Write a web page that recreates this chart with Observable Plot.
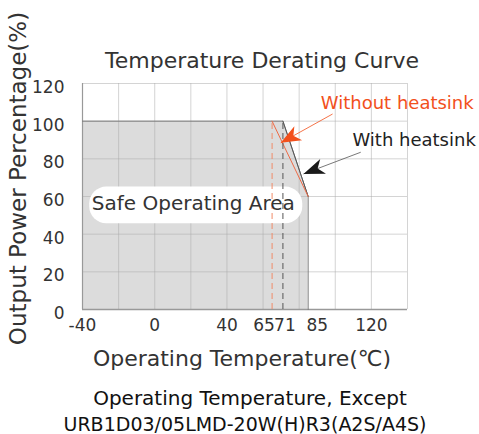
<!DOCTYPE html>
<html>
<head>
<meta charset="utf-8">
<script src="https://cdn.jsdelivr.net/npm/d3@7"></script>
<script src="https://cdn.jsdelivr.net/npm/@observablehq/plot@0.6"></script>
<style>
  html, body { margin: 0; padding: 0; background: #fff; }
  #chart svg { display: block; }
</style>
</head>
<body>
<div id="chart"></div>
<script>
// ---- data ----
const title = "Temperature Derating Curve";
const xLabel = "Operating Temperature(℃)";
const yLabel = "Output Power Percentage(%)";
const caption1 = "Operating Temperature, Except";
const caption2 = "URB1D03/05LMD-20W(H)R3(A2S/A4S)";

// safe operating area (with heatsink) outline
const withX = [-40, 71, 85, 85];
const withY = [100, 100, 60, 0];
// without-heatsink derating segment
const withoutX = [65, 85];
const withoutY = [100, 60];
// derating start temperatures (dashed markers)
const startWithout = 65;
const startWith = 71;

const xTicks = [-40, 0, 40, 65, 71, 85, 120];
const yTicks = [0, 20, 40, 60, 80, 100, 120];
const gridXValues = [-40, -20, 0, 20, 40, 60, 80, 100, 120, 140];
const gridYValues = [0, 20, 40, 60, 80, 100, 120];

// annotations
const areaLabel = {text: "Safe Operating Area", x: 21.4, y: 56.2};
const areaBox = {x1: -36, x2: 82, y1: 45.5, y2: 65};
const noteWithout = {text: "Without heatsink", x: 92, y: 109.3, fromX: 98.5, fromY: 103.8, toX: 69.8, toY: 88.5};
const noteWith = {text: "With heatsink", x: 109.5, y: 89.7, fromX: 114.1, fromY: 83.5, toX: 82.4, toY: 72.0};

// ---- build ----
const outline = withX.map((x, i) => ({x, y: withY[i]}));
const without = withoutX.map((x, i) => ({x, y: withoutY[i]}));

const font = "DejaVu Sans";
const orange = "#f2501c";

// arrowhead symbol, tip at origin pointing up
function headSymbol(len, half) {
  return {
    draw(ctx) {
      ctx.moveTo(0, 0);
      ctx.lineTo(half, len);
      ctx.lineTo(0, len * 0.72);
      ctx.lineTo(-half, len);
      ctx.closePath();
    }
  };
}

const nudge = {65: -8, 71: 2, 85: 9};
const xTickMarks = xTicks.map(t => Plot.text([t], {
  x: d => d, frameAnchor: "bottom", lineAnchor: "middle", dy: 16, dx: nudge[t] || 0,
  text: d => String(d), fontSize: 17, fill: "#333"
}));

const chart = Plot.plot({
  width: 479,
  height: 434,
  marginLeft: 82,
  marginRight: 72,
  marginTop: 83,
  marginBottom: 125,
  style: {fontFamily: font, background: "#fff", overflow: "visible"},
  x: {domain: [-40, 140], axis: null},
  y: {domain: [0, 120], axis: null},
  marks: [
    Plot.areaY(outline, {x: "x", y: "y", fill: "#dcdcdc", curve: "linear"}),
    Plot.ruleX(gridXValues, {stroke: "#aaa", strokeOpacity: 0.5}),
    Plot.ruleY(gridYValues, {stroke: "#aaa", strokeOpacity: 0.5}),
    Plot.ruleY([0], {stroke: "#999", strokeWidth: 1.5}),
    Plot.ruleX([-40], {stroke: "#999", strokeWidth: 1.2}),
    Plot.rect([areaBox], {x1: "x1", x2: "x2", y1: "y1", y2: "y2", fill: "#fff", rx: 17}),
    Plot.line(outline, {x: "x", y: "y", stroke: "#777", strokeWidth: 0.9}),
    Plot.line(outline.slice(1, 3), {x: "x", y: "y", stroke: "#555", strokeWidth: 1}),
    Plot.line(without, {x: "x", y: "y", stroke: "#ee6a45", strokeWidth: 1}),
    Plot.ruleX([startWithout], {y1: 0, y2: 100, stroke: "#f08a68", strokeDasharray: "6,4"}),
    Plot.ruleX([startWith], {y1: 0, y2: 100, stroke: "#555", strokeDasharray: "6,4"}),
    Plot.text([areaLabel], {x: "x", y: "y", text: "text", fontSize: 20, fill: "#333"}),
    // annotations
    Plot.link([noteWithout], {x1: "fromX", y1: "fromY", x2: "toX", y2: "toY", stroke: orange, strokeWidth: 0.8}),
    Plot.dot([noteWithout], {x: "toX", y: "toY", symbol: headSymbol(20, 8), fill: orange, stroke: "none", rotate: 241}),
    Plot.text([noteWithout], {x: "x", y: "y", text: "text", textAnchor: "start", fontSize: 18, fill: orange}),
    Plot.link([noteWith], {x1: "fromX", y1: "fromY", x2: "toX", y2: "toY", stroke: "#555", strokeWidth: 0.8}),
    Plot.dot([noteWith], {x: "toX", y: "toY", symbol: headSymbol(21, 8), fill: "#1a1a1a", stroke: "none", rotate: 249}),
    Plot.text([noteWith], {x: "x", y: "y", text: "text", textAnchor: "start", fontSize: 18, fill: "#222"}),
    // axes labels
    ...xTickMarks,
    Plot.text(yTicks, {y: d => d, frameAnchor: "left", dx: -18, dy: 4, textAnchor: "end", lineAnchor: "middle", text: d => String(d), fontSize: 17, fill: "#333"}),
    Plot.text([title], {frameAnchor: "top", lineAnchor: "middle", textAnchor: "middle", dx: 17, dy: -23, fontSize: 22, fill: "#333"}),
    Plot.text([xLabel], {frameAnchor: "bottom", lineAnchor: "middle", textAnchor: "middle", dx: -3, dy: 49, fontSize: 22, fill: "#333"}),
    Plot.text([yLabel], {frameAnchor: "left", lineAnchor: "middle", textAnchor: "middle", dx: -64, dy: -18, rotate: -90, fontSize: 23, fill: "#333"}),
    Plot.text([caption1], {frameAnchor: "bottom", lineAnchor: "middle", textAnchor: "middle", dx: 5, dy: 89, fontSize: 20, fill: "#111"}),
    Plot.text([caption2], {frameAnchor: "bottom", lineAnchor: "middle", textAnchor: "middle", dx: 0, dy: 115, fontSize: 19, fill: "#111"})
  ]
});
document.getElementById("chart").appendChild(chart);
</script>
</body>
</html>
